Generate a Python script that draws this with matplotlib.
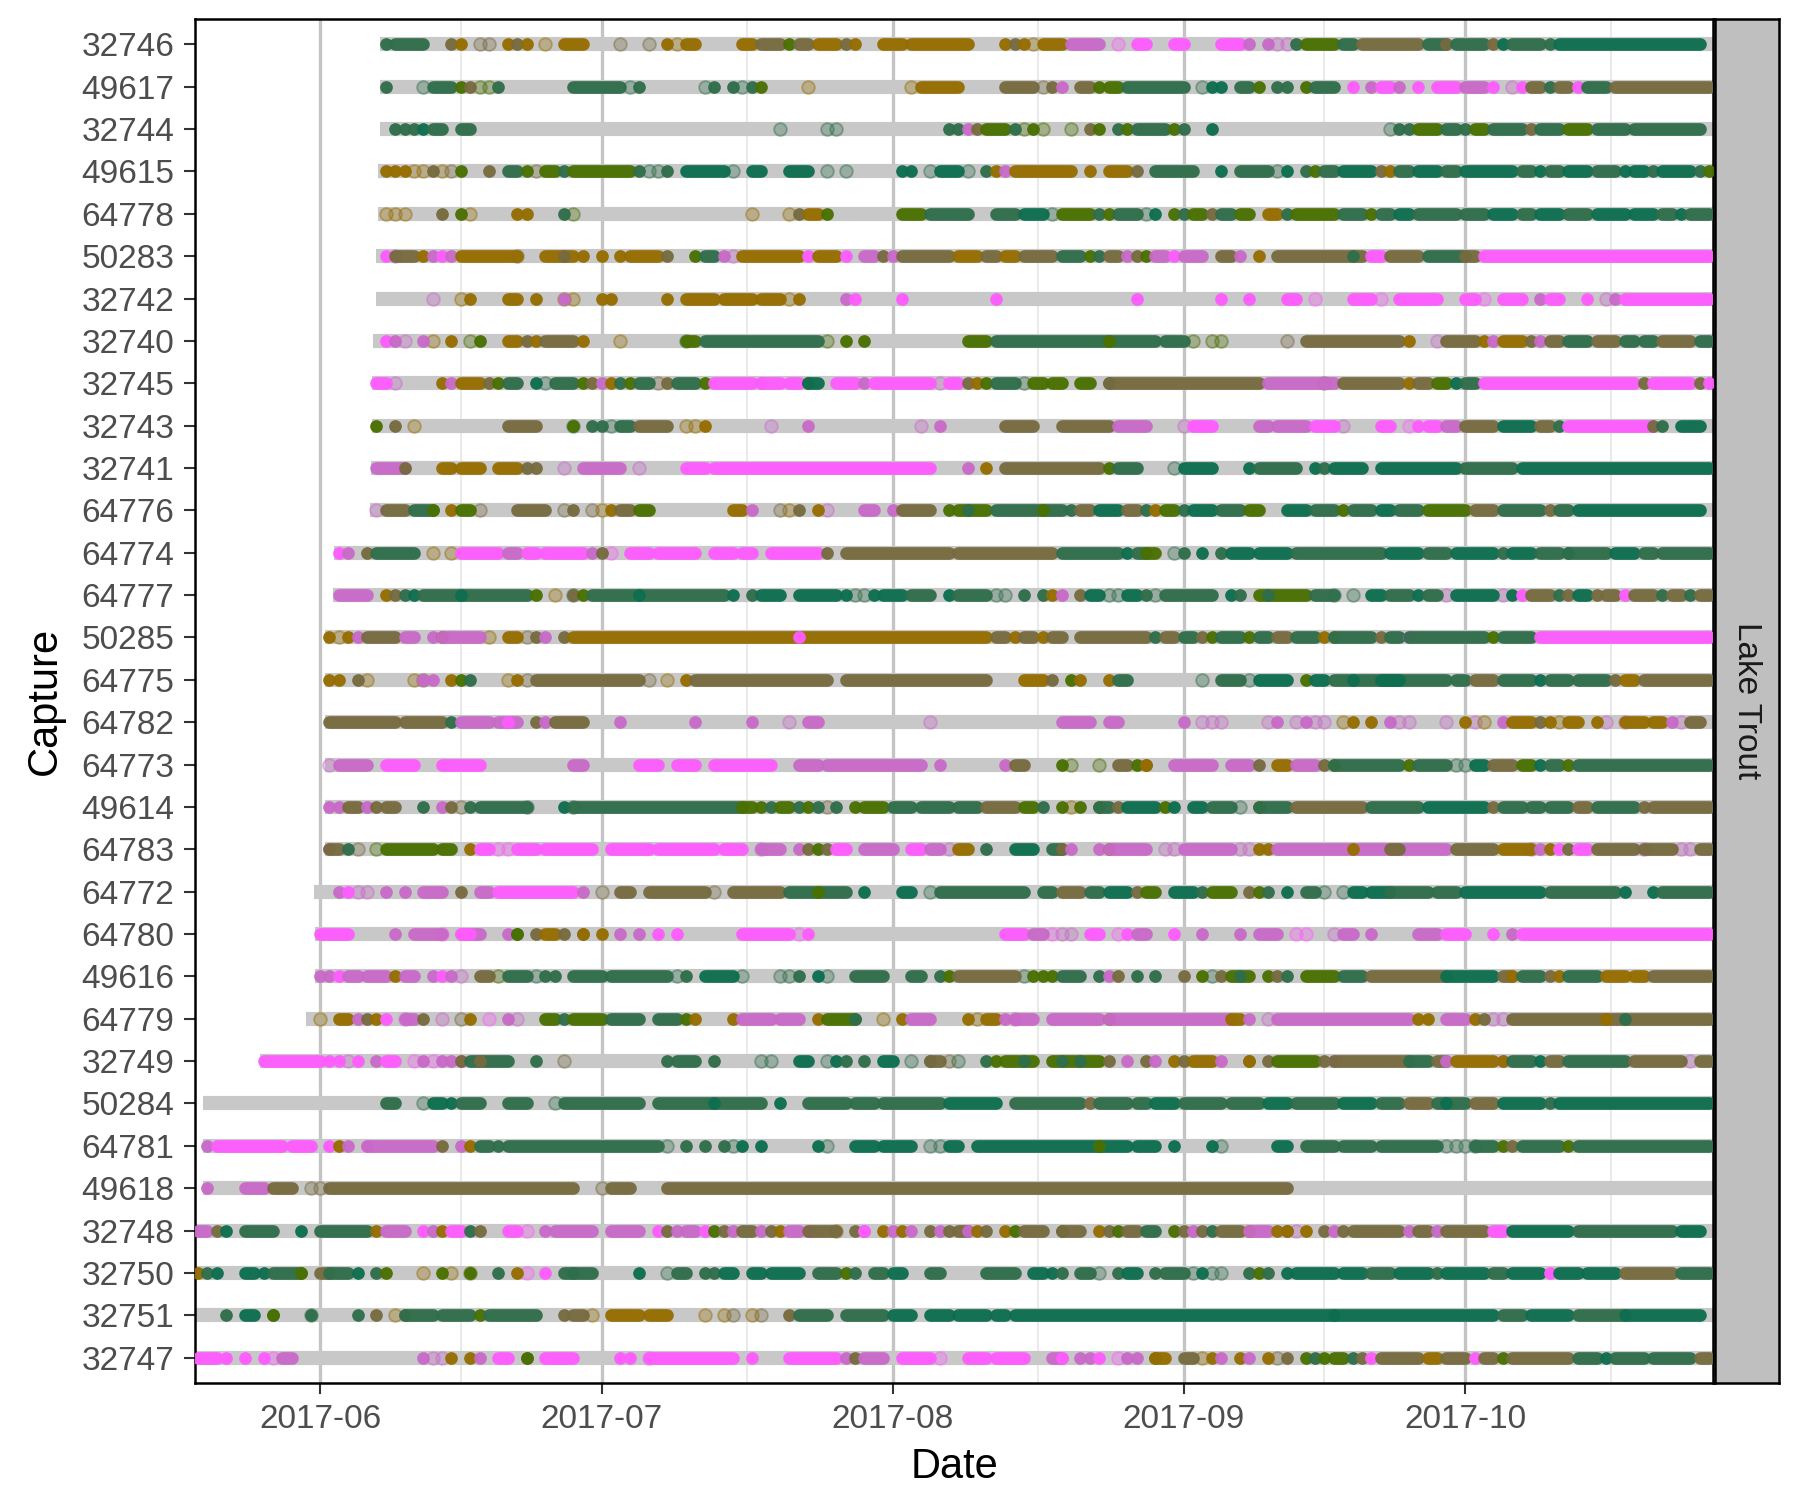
import re
import numpy as np
import matplotlib
matplotlib.use("Agg")
import matplotlib.pyplot as plt
import matplotlib.dates as mdates
from matplotlib.colors import to_rgba

plt.rcParams["font.family"] = ["Liberation Sans", "DejaVu Sans"]

# ── Data ───────────────────────────────────────────────
# days are counted from STUDY_START; detections are "day" or "first-last" + colour code,
# upper case = many detections that day, lower case = a single faint detection
STUDY_START = np.datetime64("2017-05-19")
STUDY_END_DAY = 161.4

captures = ["32746", "49617", "32744", "49615", "64778", "50283", "32742", "32740",
            "32745", "32743", "32741", "64776", "64774", "64777", "50285", "64775",
            "64782", "64773", "49614", "64783", "64772", "64780", "49616", "64779",
            "32749", "50284", "64781", "49618", "32748", "32750", "32751", "32747"]

release_day = [19.4, 19.4, 19.4, 19.2, 19.2, 19.0, 19.0, 18.6,
               18.5, 18.5, 18.4, 18.3, 14.5, 14.4, 13.5, 13.5,
               13.5, 13.5, 13.5, 13.5, 12.4, 12.5, 12.5, 11.5,
               6.6, 0.5, 0.5, 0.5, -0.5, -0.5, -0.5, -0.5]

detections = [
    # 32746
    ("20G 21-24G 27B 28O 30b 31b 33O 34B 35O 37o 39-41O 45b 48b 50O 51o 52-53O 58-59O "
     "60-62B 63L 64-65B 66-68O 69B 70O 73-75O 76-82O 86O 87B 88O 89o 90-92O 93-96M 98p "
     "100-101P 104-105P 109-111P 112M 114M 115m 116m 117G 118-121L 122-123G 124-130B "
     "131-133G 133B 134-137G 138B 139T 140-143G 144G 145-160T"),
    # 49617
    ("20G 24g 25-27G 28L 29B 30l 31l 32G 40-45G 46g 47G 54g 55G 57G 58g 59G 60L 65o 76o "
     "77-81O 86-89B 90b 91B 92M 94-95B 96L 97-98L 99-105G 107g 108T 109T 111-112G 113L "
     "115G 116G 118L 119-121G 123P 125M 126-127P 128M 130P 132-134P 135-137M 138P 140m "
     "141P 142-143B 144G 145-146B 147P 148-150G 151-161B"),
    # 32744
    ("21G 22G 23G 24T 25-26G 28-29G 62g 67g 68g 80G 81G 82M 83B 84-86L 87G 88l 89L 90l "
     "93l 95B 96L 98G 99L 100-103G 104L 105G 108T 127g 128G 129G 130-132L 133-134G 135G "
     "136-137L 138-141G 142B 143-145G 146-148L 149-152G 153-160G"),
    # 49615
    ("20O 21O 22O 23o 24o 25B 26o 27b 28L 31B 33-34G 35L 36b 37-38L 39G 40-46L 47G 48g "
     "49g 50G 52-56T 57g 59-60T 63-65T 67g 69g 75T 76T 78g 79-81T 82g 84G 85O 86M 87-93O "
     "95O 97-99O 100B 102-106G 109T 111-114G 115g 116T 118G 119L 120-121G 122-125T 126B "
     "127O 128-129G 130-132T 133-134G 135-140T 141-142G 143T 144-145G 146-148T 149-151G "
     "152T 153-154T 155G 156-159T 160G 161L"),
    # 64778
    ("20o 21o 22o 26B 28L 29o 34O 35O 39G 40l 59o 63o 64B 65-66O 67L 75-77L 78-82G "
     "85-87G 88-90T 91g 92-95L 96G 97L 98-100G 101g 102T 104L 105G 106-107L 108B "
     "109-110G 111-112L 114-115O 116G 117-121L 122-124G 125L 126-127G 128-129T 130-134G "
     "135-137G 138-140T 141-142G 143-145T 146-148G 149-152T 153-155T 156-157G 158T 159-161G"),
    # 50283
    ("20P 21m 21-23B 24O 25M 26P 27M 28-34O 34b 37-40O 39B 41O 43O 45O 46-49O 50B 53L "
     "54-55G 56M 57m 58-64O 65P 66-68O 69P 71-72M 73B 74M 75-80B 81-83O 84-85B 86-87O "
     "88-91B 92-94G 95L 96G 97-98B 99M 100B 101L 102-103M 104P 105-107M 109-110B 111M "
     "113O 115-124B 123G 125-126P 127-130B 131-135G 135-136B 137-161P"),
    # 32742
    ("25m 28o 29O 33-34O 36O 39M 39o 40o 43O 44O 50O 52-55O 56-59O 60-62O 63o 64O 69M "
     "70P 75P 85P 100P 109P 112P 116-117P 119p 123-125P 126p 128-132P 135-136P 137p "
     "139-141P 143M 144-145P 148P 150m 151M 152-161P"),
    # 32740
    ("20P 21M 22m 24M 25o 27O 29l 30L 33-34O 35B 36O 37-40B 41O 45o 52g 52-53L 54-66G "
     "67l 69L 71L 82-84L 85-102G 97L 103-105G 106l 108l 109l 116b 118-128B 129O 132m "
     "133-136B 137O 138M 139-141O 142B 143M 144-145B 146-148G 149-151B 152-153G 154-155G "
     "156-159B 160-161G"),
    # 32745
    ("19-20P 21m 26O 27M 28-30O 31B 32L 33-34G 36T 37g 38-40G 41L 42B 43M 44O 45G 46L "
     "47-48G 49b 50B 51-53G 54L 55-59P 60M 60-62P 63-64P 65L 65-66T 68-70P 71M 72-78P "
     "79m 80-81P 82B 83O 84L 85-87G 88g 89-90L 91-92L 94-95L 97G 97-113B 114-121M 120b "
     "122-128B 129O 130-131B 132-133L 134T 135-136G 137-153P 154B 155-159P 160B 161P"),
    # 32743
    ("19L 21B 23o 33-36B 40g 40L 42G 43G 44g 45-46G 47-50B 52o 53o 54O 61m 65M 77m 79M "
     "86-89B 92-97B 98-101M 105m 106-108P 113-114M 115-118M 119-121P 122m 126-127P 129p "
     "130P 131-132P 133-134M 135-138B 139-142T 143-144B 145G 146-155P 155B 156G 158-160T"),
    # 32741
    ("19-22M 22B 26-27O 28-30O 32-34O 35B 36B 39m 41-45M 47m 52-54P 55-78P 82M 84O "
     "86-96B 97L 98-100G 104g 105-108T 112T 113-117G 119T 120G 121-124T 126-134T "
     "135-140G 141-161T"),
    # 64776
    ("19m 20-22B 23-25G 25L 27O 28-29L 30b 34-37B 39b 40B 42b 43o 44O 45-46B 47-48L "
     "57-58O 59M 62b 63o 64B 66O 67m 71-72M 74M 75-78B 80L 81-84L 82G 85-92G 90L 93G "
     "94-95B 96-98T 99-100B 101G 102O 103-104L 105G 106-108T 109-111G 112-113L 116-118T "
     "119-121G 122L 123-125G 126-127T 128-130G 131-135L 136-138B 139-143G 144B 145-146G "
     "147-160T"),
    # 64774
    ("15P 16M 18B 19-23G 25o 27o 28-32P 33-34M 35-36P 37-41P 42M 43B 44p 46-48P 49-53P "
     "55-57P 58-59P 61-66P 67B 69-80B 81-91B 92-98G 99T 100-101G 101-102L 104g 105G 107T "
     "109G 110-112T 113-116T 117-126G 127-130T 131-133G 134-138T 139G 140-142T "
     "143-145G 146T 146-150G 151-153T 154-155G 156-161G"),
    # 64777
    ("15-18M 20O 21B 22G 23T 24-35G 28T 36L 38o 40B 40g 41L 42-56G 47T 57T 59G 60-62T "
     "64-68T 69T 70g 71g 72T 73-75T 76-78G 80T 81-84G 85g 86g 88G 90G 91O 92M 94B 95-96T "
     "97g 98g 99-100T 101G 102g 103-108G 110T 111G 113-118L 114G 119-121G 121g 123g "
     "125-126T 127-129G 130T 131-132G 133m 134-138T 139m 140T 141P 142-144B 145G 146B "
     "147-148T 149B 150-151B 152P 153-155B 156G 157-158B 159G 160-161B"),
    # 50285
    ("14O 15o 16O 17M 18-21B 22-23M 25M 26O 26-30M 31o 33-34O 35b 36B 37M 39B 40-84O "
     "64P 85-86B 87O 88-89B 90O 91-92B 94-101B 102G 103-104B 105-106G 107B 108L 109-111G "
     "112L 113-114G 115-116B 117-119G 120O 121B 121-125G 126B 127-128G 129P 129-137G 138L "
     "139-142G 143-161P"),
    # 64775
    ("14O 15O 17B 18o 23o 24M 24b 25M 27O 28L 29G 33o 34O 35b 36-47B 48b 50o 52O 53-67B "
     "69-84B 88-90O 91B 93L 94O 97O 98-99G 107g 109-111G 112g 113-116T 118L 119-120T "
     "121-133G 123T 126-128T 134-135G 136-138B 139-142G 143T 144-146G 147-150G 151B "
     "152-153O 154-161B"),
    # 64782
    ("14-21B 22-26B 27G 28-31M 32-34M 33P 36B 37M 38-41B 45M 53M 59M 63m 65-66M 78m "
     "92-95M 97-98M 105M 107m 108m 109m 114m 115M 117m 118M 119m 120m 122o 123O 125O "
     "127M 128m 129m 133m 135O 136m 137o 139M 140-142O 143B 144O 145o 146-147O 149O "
     "150m 152m 152-154O 155-156O 157M 158m 159-160B"),
    # 64773
    ("14m 15-18M 20-23P 26-30P 40-41M 47-49P 51-53P 55-61P 64-66M 67-77M 79M 86M 87-88B "
     "92L 93l 96l 98-99B 100L 101B 101O 104-108M 110-112M 113B 115-116O 117-119M 120B "
     "121L 121-128G 129L 130-133G 134g 135g 136-137T 138-140B 141-142L 143T 144-145G "
     "146L 147-161G"),
    # 49614
    ("14M 15M 16-17B 18M 19B 20-21B 24G 26M 27B 28b 29G 30-35G 35g 39T 40g 40-58G "
     "58-59L 60L 61G 62-63L 64G 65L 66G 67b 68G 70L 71-73L 74-76G 77-80G 81-83G 84-87B "
     "88-89L 90G 92L 93o 94L 96L 96-97G 98B 99-102T 103L 104T 106-107T 108-110G 111g "
     "113L 113-116G 117-124B 125-130G 131-137T 138B 139-141G 142-143G 144-146G 147-148B "
     "149-153G 154B 155-161B"),
    # 64783
    ("14M 14-15B 16G 17b 19l 20-25L 26-27L 29O 30-31P 32p 33p 34-36P 37-42P 44-48P "
     "49-55P 56-58P 60m 60-62M 64M 65B 66L 67B 68-69P 71-74M 76-77P 78-79M 80m 81-82O "
     "84G 87-89T 91-92G 92B 93M 96M 97O 97-101M 103m 104m 105-110M 111m 112m 113O 114O "
     "115-133M 123O 127-128B 134-138B 139-142O 142m 143M 144O 145P 146B 147-148P "
     "149-153B 154m 154-157B 158m 159m 160-161B"),
    # 64772
    ("15M 16P 17m 18m 20M 22M 24-26M 28B 30-31M 32-40P 41M 43b 45-46B 48-54B 55b 57-62B "
     "63-69G 66L 71T 75-76T 78g 79-88G 90-91G 92-94B 95-96G 97-99T 100B 101-102L "
     "104-106T 107G 108-110L 112B 113L 114G 116T 118-119G 120g 122g 123-124T 125-127T "
     "127-131G 132-134G 135-143T 144-151G 152T 155T 156-161G"),
    # 64780
    ("13-16P 21M 23-26M 26p 28-30M 28-29P 33M 34G 34L 36B 37-38O 39B 41B 41O 43O 45M "
     "47M 49P 51P 58-63P 64p 65P 86-88P 89-90M 91p 92m 93m 95-96P 98p 99P 100-101M 104P "
     "107M 111M 113-115M 117p 118p 121m 122-123M 125M 130-132M 133-135P 138P 140M "
     "141-161P"),
    # 49616
    ("13M 14M 15P 16-17M 18-20M 21O 22-23M 25M 26P 27M 28m 30-31B 32l 33-35G 36g 37G "
     "38G 40-43G 44-50G 51g 52G 54-57T 58g 62g 63g 64G 66T 67g 70-73G 76-77G 79G 80L "
     "81-87B 88g 89L 90L 91L 92-94G 96G 97M 98B 100G 102G 105B 107L 108g 109B 110-112L "
     "111G 114L 115B 116G 118-121L 122-124G 125-133B 133-138T 139-140B 140O 141-143G "
     "144B 145O 146-149G 150-152O 153-154O 155-161B"),
    # 64779
    ("13o 15-16O 17M 18B 19O 20P 22m 22-23M 24B 26m 28b 29O 31p 33M 34m 37-38L 39G "
     "40-43L 44-47G 49-51G 52L 53O 57O 58-61M 62-64M 66O 67-70L 70G 73o 75O 76-78M 82O "
     "83o 84-85O 86M 87m 87-89M 91-96M 97O 97-110M 110-111O 112M 114m 115-129M 130O "
     "131O 133-135M 136O 137B 138m 139m 140-161B 150O 152G"),
    # 32749
    ("7-13P 14P 15P 16m 17P 19M 20-21P 23p 24M 25p 26M 27M 28M 28B 29-33G 30B 36G 39b "
     "50G 51-53G 55G 60g 61g 64-65T 67g 68T 69G 71G 73-74T 76g 78G 78-79B 80b 81g 84G "
     "85L 86-89L 88G 91-96L 92G 94G 97B 99M 101B 102M 104O 105B 106-108O 109M 112B 112O "
     "114B 115-119L 120B 121M 121-129B 129-131G 132-133B 133M 134-138O 139M 139O 140-142G "
     "143T 144-145B 146-152G 153-158B 159m 160-161B"),
    # 50284
    ("20-21G 24g 25-26T 27T 28-30G 33-35G 38g 39-47G 49-60G 55T 62T 65-69G 70-72G "
     "73-79G 80-85T 87-94G 95B 96-99G 100-101G 102-104T 105-109G 110-113G 114-116T "
     "117-121G 122-125T 126-128G 129-131B 132-135G 133T 136-138B 139-143T 144G 145-161T"),
    # 64781
    ("1M 2-9P 10-12P 14P 15O 16M 18P 18-25M 26B 28M 29O 30-31G 32G 33-49G 50g 52G 54G "
     "56G 57g 58T 60T 66T 67g 70-72T 73-76T 78g 79g 80-81T 83-99T 96L 100-102T 104T "
     "108T 109g 115-116T 118-121G 122-125G 126-132G 133g 134g 135g 136g 136-138G 139L 140B "
     "141-145G 146L 147-161G"),
    # 49618
    "1M 5-7M 8-10B 12b 13b 14-40B 43b 44-46B 50-116B",
    # 32748
    ("0-1M 2B 3T 5-8G 11T 13-18G 19O 20-22M 24P 25M 26O 27-28P 29G 30B 33-34P 35p 37M "
     "38-42M 44-47M 49P 50B 51M 52-53M 54P 55L 56B 57M 58-59B 60M 61B 62O 63-64M 65P "
     "65-68B 68o 70B 71M 71P 73O 74M 75O 76M 78B 79M 80B 81-82B 82M 83O 84B 86O 87L "
     "88-90B 92L 92-94B 96O 97B 98L 99-100B 101-102G 104L 105B 106M 107B 108G 109-111B "
     "112O 112-114M 115O 116B 116O 117m 118O 120B 121M 122B 123-128B 129M 130-131B "
     "132M 133-137B 138-139P 140-146T 147-157G 158-160T"),
    # 32750
    ("0O 1G 2T 5-6T 7T 8-11G 11L 13-14B 14-16G 17T 19G 20L 24o 26L 27o 29l 29L 32G 34O "
     "35p 37P 39-40G 40-42G 47T 50g 51-52G 54G 55G 56-57T 59-60T 61-64T 66-68G 69L 70G "
     "72-73G 74-75T 78-79G 84-87G 89-90T 91T 92G 94-95G 96g 98G 99-100T 102G 103-105G "
     "106g 107T 108g 109g 112G 113L 114G 116T 117-121T 122-124T 125-127G 128-131T 132G "
     "133-137T 138-139G 140-143T 144P 145-147T 148-151T 152-157B 158-161G"),
    # 32751
    ("3G 5-6T 8G 8L 12g 12G 17G 19B 21o 22B 22-25G 26-29G 30L 31-36G 39B 40-41B 42o "
     "44-47O 48-50O 54o 56o 57b 59o 60b 63B 64-67G 69-73G 74-76T 78-80T 81-84T 85-86T "
     "87-121T 121-138T 139-141G 142-146T 147-152G 152-160T"),
    # 32747
    ("0-2P 3P 5P 7P 8p 9-10M 24M 25m 26m 27O 29O 30M 32-33P 35B 35L 37-40P 45P 46P 48p "
     "48-57P 59P 63-68P 69M 70B 71-73M 75-78P 79p 82-84P 85-88P 91-92M 92P 94M 95M 96P "
     "98p 99M 100M 102L 102-103O 105-106B 107o 108O 109M 111O 112M 114O 115b 116B 118L "
     "119G 120L 121-122L 123G 124B 125P 126-130B 131-132O 133-135B 136P 137-138B 139L "
     "140-146B 147-149G 150T 151-154G 155-159G 160-161B"),
]

bin_colors = {
    "P": "#FF5CFF",
    "M": "#C869C8",
    "O": "#956D00",
    "B": "#766A3F",
    "L": "#497000",
    "G": "#2F6E4A",
    "T": "#0D6E4F",
}

# ── Figure ─────────────────────────────────────────────
DPI = 300
DOT = 3.05          # point diameter in pt
fig = plt.figure(figsize=(1799 / DPI, 1499 / DPI), dpi=DPI)
ax = fig.add_axes([195 / 1799, 116 / 1499, 1518 / 1799, 1364 / 1499])

base = mdates.date2num(STUDY_START)
n = len(captures)
TOKEN = re.compile(r"(\d+)(?:-(\d+))?([A-Za-z])")

for row, (start, det) in enumerate(zip(release_day, detections)):
    y = n - 1 - row
    ax.hlines(y, base + start, base + STUDY_END_DAY, color="#C8C8C8", lw=3.4, zorder=2)

    runs = []
    for a, b, code in TOKEN.findall(det):
        a = int(a)
        b = int(b) if b else a
        runs.append((a, b, code))
    runs.sort(key=lambda r: r[0])

    for a, b, code in runs:
        c = bin_colors[code.upper()]
        if code.islower():
            ax.scatter(base + a, y, s=DOT ** 2, facecolors=[to_rgba(c, 0.3)],
                       edgecolors=[to_rgba(c, 0.45)], linewidths=0.45, zorder=3)
        elif b > a:
            ax.plot([base + a, base + b], [y, y], color=c, alpha=0.96, lw=DOT,
                    solid_capstyle="round", zorder=4)
        else:
            ax.scatter(base + a, y, s=DOT ** 2, color=c, alpha=0.96,
                       linewidths=0, zorder=4)

ax.set_xlim(base - 0.32, base + STUDY_END_DAY)
ax.set_ylim(-0.6, n - 0.4)

# month breaks with ggplot-style minor lines half way
months = [np.datetime64(f"2017-{m:02d}-01") for m in range(6, 12)]
major = [mdates.date2num(m) for m in months[:-1]]
minor = [(mdates.date2num(a) + mdates.date2num(b)) / 2 for a, b in zip(months[:-1], months[1:])]
ax.set_xticks(major)
ax.set_xticklabels([str(m)[:7] for m in months[:-1]])
ax.set_xticks(minor, minor=True)
ax.grid(axis="x", which="major", color="#C4C4C4", lw=0.8, zorder=0)
ax.grid(axis="x", which="minor", color="#E6E6E6", lw=0.4, zorder=0)
ax.set_axisbelow(True)

ax.set_yticks(range(n))
ax.set_yticklabels(captures[::-1])

ax.tick_params(which="major", length=2.75, width=0.5, color="#333333",
               labelsize=8, labelcolor="#4D4D4D", pad=2.2)
ax.tick_params(which="minor", length=0)
for s in ax.spines.values():
    s.set_color("black")
    s.set_linewidth(0.6)

ax.set_xlabel("Date", fontsize=10, labelpad=3)
ax.set_ylabel("Capture", fontsize=10, labelpad=4)

# facet strip on the right
sax = fig.add_axes([1715 / 1799, 116 / 1499, 64 / 1799, 1364 / 1499])
sax.set_facecolor("#BFBFBF")
sax.set_xticks([])
sax.set_yticks([])
for s in sax.spines.values():
    s.set_color("black")
    s.set_linewidth(0.6)
sax.text(0.5, 0.5, "Lake Trout", rotation=-90, ha="center", va="center",
         fontsize=8, color="#1A1A1A", transform=sax.transAxes)

fig.savefig("out.png", dpi=DPI)
